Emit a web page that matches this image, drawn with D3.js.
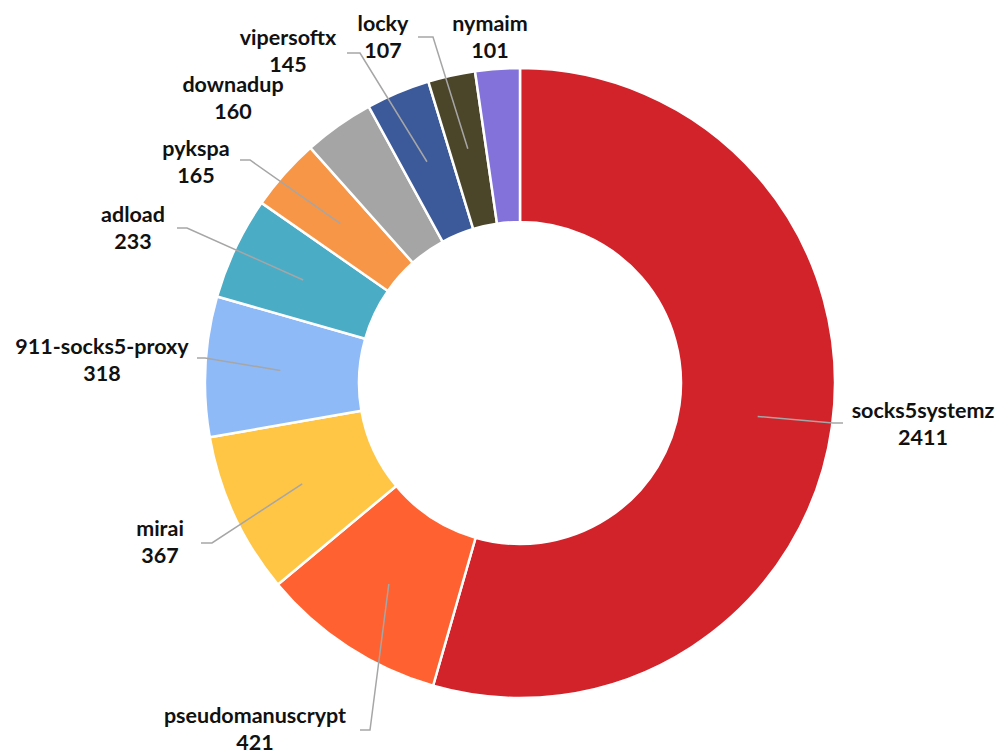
<!DOCTYPE html>
<html><head><meta charset="utf-8">
<script src="https://cdn.jsdelivr.net/npm/d3@7"></script>
<style>html,body{margin:0;padding:0;background:#fff;}svg{display:block;}</style>
</head><body>
<svg id="c" width="1001" height="755"></svg>
<script>
const categories = ["socks5systemz","pseudomanuscrypt","mirai","911-socks5-proxy","adload","pykspa","downadup","vipersoftx","locky","nymaim"];
const values = [2411,421,367,318,233,165,160,145,107,101];
const colors = ["#D2232A","#FF6230","#FFC545","#8FBAF8","#4BACC6","#F79646","#A5A5A5","#3C5A9A","#4B452A","#8372D9"];

const W = 1001, H = 755, cx = 520, cy = 383, R = 315, r = 161;
// label layout: centre x, baseline of first line, leader stub start/end, target slice for leader
const labelLayout = [
  {x:923, y:418, stub:[[843,423],[833,423]], target:0},
  {x:255, y:723, stub:[[360,730],[370,730]], target:1},
  {x:160, y:536, stub:[[201,543],[212,543]], target:2},
  {x:102, y:354, stub:[[197,358],[205,358]], target:3},
  {x:133, y:222, stub:[[177,228],[187,228]], target:4},
  {x:196, y:156, stub:[[240,160],[250,160]], target:5},
  {x:233, y:92,  stub:null},
  {x:288, y:45,  stub:null},
  {x:383, y:31,  stub:[[347,53],[360,53]], target:7},
  {x:490, y:31,  stub:[[418,37],[433,37]], target:8}
];

const svg = d3.select("#c");
const g = svg.append("g").attr("transform", `translate(${cx},${cy})`);
const pie = d3.pie().sort(null).value(d => d)(values);
const arc = d3.arc().innerRadius(r).outerRadius(R);
const mid = d3.arc().innerRadius(240).outerRadius(240);

g.selectAll("path.slice").data(pie).join("path")
  .attr("class","slice")
  .attr("d", arc)
  .attr("fill", (d,i) => colors[i])
  .attr("stroke", "#fff").attr("stroke-width", 2.5).attr("stroke-linejoin","round");

// leader lines
const line = d3.line();
labelLayout.forEach((L) => {
  if (!L.stub) return;
  const c = mid.centroid(pie[L.target]);
  const pts = [L.stub[0], L.stub[1], [c[0]+cx, c[1]+cy]];
  svg.append("path").attr("d", line(pts)).attr("fill","none")
    .attr("stroke","#A6A6A6").attr("stroke-width",1.5);
});

// labels
const lab = svg.selectAll("text.lab").data(categories).join("text")
  .attr("class","lab")
  .attr("text-anchor","middle")
  .attr("font-family","Lato, 'Open Sans', sans-serif")
  .attr("font-weight","bold")
  .attr("font-size", 21.5)
  .attr("fill","#111");
lab.each(function(d,i){
  const t = d3.select(this), L = labelLayout[i];
  t.append("tspan").attr("x", L.x).attr("y", L.y).text(d);
  t.append("tspan").attr("x", L.x).attr("y", L.y + 27).text(values[i]);
});
</script>
</body></html>
